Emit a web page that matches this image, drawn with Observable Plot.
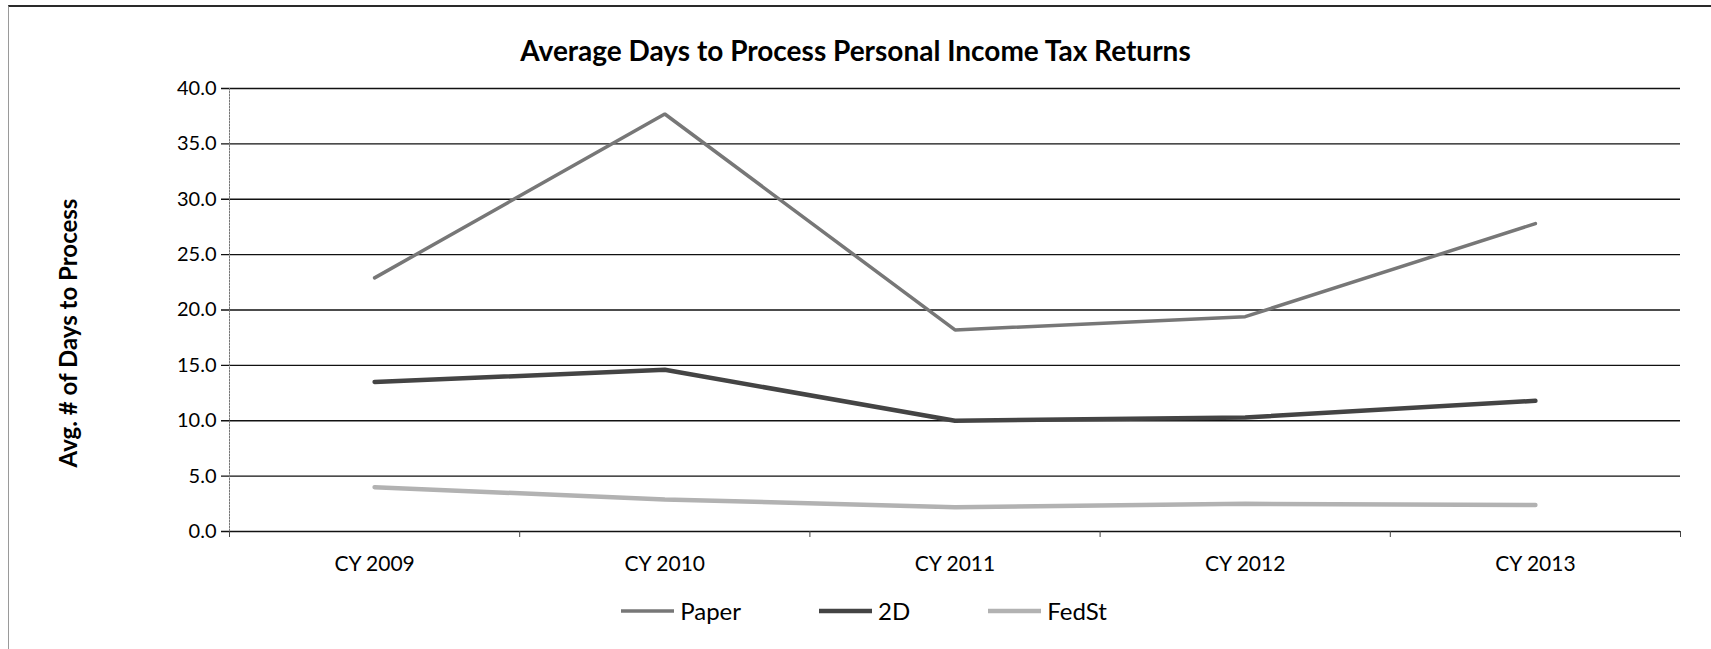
<!DOCTYPE html>
<html>
<head>
<meta charset="utf-8">
<script src="https://cdn.jsdelivr.net/npm/d3@7"></script>
<script src="https://cdn.jsdelivr.net/npm/@observablehq/plot@0.6"></script>
<style>
  html, body { margin: 0; padding: 0; background: #fff; }
  #wrap { position: relative; width: 1711px; height: 649px; overflow: hidden; font-family: Lato, "Open Sans", sans-serif; color: #000; }
  #border { position: absolute; left: 8px; top: 5px; width: 1720px; height: 700px; border-top: 2px solid #2a2a2a; border-left: 1px solid #9a9a9a; }
  #title { position: absolute; left: 0; top: 34px; width: 1711px; text-align: center; font-weight: bold; font-size: 28px; line-height: 32px; }
  #chart { position: absolute; left: 0; top: 0; }
  #ylabel { position: absolute; left: 67px; top: 333px; transform: translate(-50%, -50%) rotate(-90deg); white-space: nowrap; font-weight: bold; font-size: 24px; }
  #legend { position: absolute; top: 596px; left: 8px; width: 1711px; display: flex; justify-content: center; gap: 77px; font-size: 24px; line-height: 30px; }
  .item { display: flex; align-items: center; gap: 5px; }
</style>
</head>
<body>
<div id="wrap">
  <div id="border"></div>
  <div id="chart"></div>
  <div id="title"></div>
  <div id="ylabel"></div>
  <div id="legend"></div>
</div>
<script>
const chartTitle = "Average Days to Process Personal Income Tax Returns";
const yLabel = "Avg. # of Days to Process";
const categories = ["CY 2009", "CY 2010", "CY 2011", "CY 2012", "CY 2013"];
const seriesNames = ["Paper", "2D", "FedSt"];
const paperValues = [22.9, 37.7, 18.2, 19.4, 27.8];
const twoDValues = [13.5, 14.6, 10.0, 10.3, 11.8];
const fedStValues = [4.0, 2.9, 2.2, 2.5, 2.4];
const yTicks = [0, 5, 10, 15, 20, 25, 30, 35, 40];
const seriesColors = ["#777777", "#444444", "#b2b2b2"];
const seriesWidths = [3.5, 4.5, 4.5];

const seriesValues = [paperValues, twoDValues, fedStValues];
const rows = seriesNames.flatMap((s, k) => seriesValues[k].map((v, i) => ({s, i, v})));
const boundaries = d3.range(categories.length + 1).map(i => i - 0.5);

document.getElementById("title").textContent = chartTitle;
document.getElementById("ylabel").textContent = yLabel;

const plot = Plot.plot({
  width: 1711,
  height: 600,
  marginTop: 88,
  marginBottom: 69,
  marginLeft: 229,
  marginRight: 31,
  style: {fontFamily: "Lato, 'Open Sans', sans-serif", fontSize: "21px", color: "#000", background: "transparent"},
  x: {type: "linear", domain: [-0.5, categories.length - 0.5]},
  y: {domain: [0, 40]},
  marks: [
    Plot.ruleY(yTicks, {y: d => d, stroke: "#111", strokeWidth: 1.3, insetLeft: -8}),
    Plot.frame({anchor: "left", stroke: "#777", strokeDasharray: "1.5,1.5"}),
    Plot.axisY({ticks: yTicks, tickFormat: d => d.toFixed(1), tickSize: 0, tickPadding: 13, label: null, fontSize: 20}),
    Plot.axisX({ticks: categories.map((c, i) => i), tickFormat: i => categories[i], tickSize: 0, tickPadding: 25, label: null, fontSize: 21}),
    Plot.axisX({ticks: boundaries, tickFormat: () => "", tickSize: 6, stroke: "#444", label: null}),
    ...seriesNames.map((s, k) => Plot.lineY(rows.filter(r => r.s === s), {
      x: "i", y: "v", stroke: seriesColors[k], strokeWidth: seriesWidths[k], strokeLinejoin: "miter"
    }))
  ]
});
document.getElementById("chart").appendChild(plot);

const legend = document.getElementById("legend");
seriesNames.forEach((s, k) => {
  const item = document.createElement("div");
  item.className = "item";
  item.innerHTML = `<svg width="55" height="8"><line x1="1" y1="4" x2="54" y2="4" stroke="${seriesColors[k]}" stroke-width="${seriesWidths[k]}"/></svg><span></span>`;
  item.querySelector("span").textContent = s;
  legend.appendChild(item);
});
</script>
</body>
</html>
